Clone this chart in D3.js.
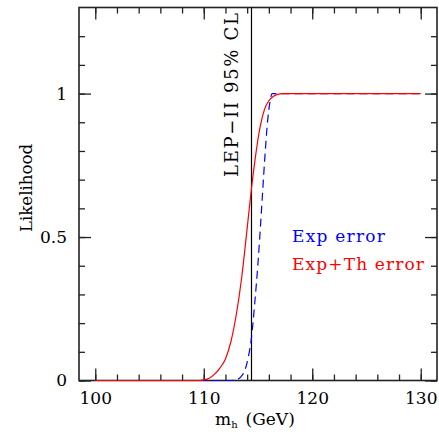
<!DOCTYPE html>
<html>
<head>
<meta charset="utf-8">
<script src="https://cdn.jsdelivr.net/npm/d3@7"></script>
<style>
  body { margin: 0; background: #fff; }
  svg text { font-family: "DejaVu Serif", "Liberation Serif", serif; fill: #000; }
</style>
</head>
<body>
<div id="chart"></div>
<script>
// Higgs mass values (GeV) and likelihoods
const massExpTh = [100, 109.6, 110, 110.5, 111, 111.5, 112, 112.5, 113, 113.5, 114, 114.4, 114.8, 115.2, 115.6, 116, 116.4, 116.8, 117.2, 130];
const likeExpTh = [0, 0, 0.002, 0.008, 0.022, 0.044, 0.075, 0.135, 0.23, 0.36, 0.53, 0.67, 0.79, 0.885, 0.945, 0.975, 0.99, 0.997, 1, 1];

const massExp = [100, 112.5, 113, 113.4, 113.8, 114.1, 114.4, 114.7, 115, 115.3, 115.6, 115.9, 116.1, 116.3, 130];
const likeExp = [0, 0, 0.003, 0.012, 0.037, 0.08, 0.15, 0.27, 0.41, 0.58, 0.76, 0.91, 0.97, 1, 1];

const lepLimit = 114.4;

const xMajor = [100, 110, 120, 130];
const xMinor = [100, 102, 104, 106, 108, 110, 112, 114, 116, 118, 120, 122, 124, 126, 128, 130];
const yMajor = [0, 0.5, 1];
const yMinor = [0, 0.1, 0.2, 0.3, 0.4, 0.5, 0.6, 0.7, 0.8, 0.9, 1, 1.1, 1.2];

const width = 439, height = 434;
const margin = { top: 7.5, right: 2, bottom: 53.5, left: 79 };

const svg = d3.select("#chart").append("svg")
    .attr("width", width)
    .attr("height", height);

const x = d3.scaleLinear()
    .domain([98.5, 131.5])
    .range([margin.left, width - margin.right]);

const y = d3.scaleLinear()
    .domain([0, 1.3])
    .range([height - margin.bottom, margin.top]);

const axisColor = "#222";

// ticks on all four sides, pointing inward
function drawTicks(axis, transform, cls) {
    const g = svg.append("g")
        .attr("class", cls)
        .attr("transform", transform)
        .call(axis);
    g.select(".domain").remove();
    g.selectAll("line").attr("stroke", axisColor).attr("stroke-width", 1.3);
    return g;
}

const bottomY = y(0), topY = y(1.3), leftX = x(98.5), rightX = x(131.5);

drawTicks(d3.axisBottom(x).tickValues(xMinor).tickSize(-6).tickFormat(""), `translate(0,${bottomY})`, "x-minor");
const xAxis = drawTicks(d3.axisBottom(x).tickValues(xMajor).tickSize(-12).tickPadding(11).tickFormat(d3.format("d")), `translate(0,${bottomY})`, "x-major");
drawTicks(d3.axisTop(x).tickValues(xMinor).tickSize(-6).tickFormat(""), `translate(0,${topY})`, "x-top-minor");
drawTicks(d3.axisTop(x).tickValues(xMajor).tickSize(-12).tickFormat(""), `translate(0,${topY})`, "x-top-major");

drawTicks(d3.axisLeft(y).tickValues(yMinor).tickSize(-6).tickFormat(""), `translate(${leftX},0)`, "y-minor");
const yAxis = drawTicks(d3.axisLeft(y).tickValues(yMajor).tickSize(-12).tickPadding(12).tickFormat(d => d === 0.5 ? "0.5" : d3.format("d")(d)), `translate(${leftX},0)`, "y-major");
drawTicks(d3.axisRight(y).tickValues(yMinor).tickSize(-6).tickFormat(""), `translate(${rightX},0)`, "y-right-minor");
drawTicks(d3.axisRight(y).tickValues(yMajor).tickSize(-12).tickFormat(""), `translate(${rightX},0)`, "y-right-major");

xAxis.selectAll("text").attr("font-size", 17).attr("font-family", "DejaVu Serif");
yAxis.selectAll("text").attr("font-size", 17).attr("font-family", "DejaVu Serif");

// frame
svg.append("rect")
    .attr("x", leftX)
    .attr("y", topY)
    .attr("width", rightX - leftX)
    .attr("height", bottomY - topY)
    .attr("fill", "none")
    .attr("stroke", axisColor)
    .attr("stroke-width", 1.6);

// LEP-II limit
svg.append("line")
    .attr("x1", x(lepLimit)).attr("x2", x(lepLimit))
    .attr("y1", topY).attr("y2", bottomY)
    .attr("stroke", "#000")
    .attr("stroke-width", 1.2);

svg.append("text")
    .attr("transform", `translate(${x(lepLimit) - 13},95) rotate(-90)`)
    .attr("text-anchor", "middle")
    .attr("font-size", 18)
    .attr("textLength", 164)
    .attr("lengthAdjust", "spacing")
    .text("LEP\u2212II 95% CL");

const line = d3.line()
    .x(d => x(d[0]))
    .y(d => y(d[1]))
    .curve(d3.curveMonotoneX);

svg.append("path")
    .datum(d3.zip(massExp, likeExp))
    .attr("d", line)
    .attr("fill", "none")
    .attr("stroke", "#0000ff")
    .attr("stroke-width", 1.2)
    .attr("stroke-dasharray", "8,5");

svg.append("path")
    .datum(d3.zip(massExpTh, likeExpTh))
    .attr("d", line)
    .attr("fill", "none")
    .attr("stroke", "#ff0000")
    .attr("stroke-width", 1.2);

// legend
svg.append("text")
    .attr("x", 292).attr("y", 242)
    .attr("font-size", 17)
    .attr("textLength", 93)
    .attr("lengthAdjust", "spacing")
    .style("fill", "#0000ff")
    .text("Exp error");

svg.append("text")
    .attr("x", 292).attr("y", 270)
    .attr("font-size", 17)
    .attr("textLength", 132)
    .attr("lengthAdjust", "spacing")
    .style("fill", "#ff0000")
    .text("Exp+Th error");

// axis titles
const xTitle = svg.append("text")
    .attr("x", 215).attr("y", 425)
    .attr("font-size", 17);
xTitle.append("tspan").text("m");
xTitle.append("tspan").attr("font-size", 10).attr("dy", 3).text("h");
xTitle.append("tspan").attr("dy", -3).attr("dx", 8).text("(GeV)");

svg.append("text")
    .attr("transform", `translate(32,188) rotate(-90)`)
    .attr("text-anchor", "middle")
    .attr("font-size", 17)
    .attr("textLength", 88)
    .attr("lengthAdjust", "spacingAndGlyphs")
    .text("Likelihood");
</script>
</body>
</html>
